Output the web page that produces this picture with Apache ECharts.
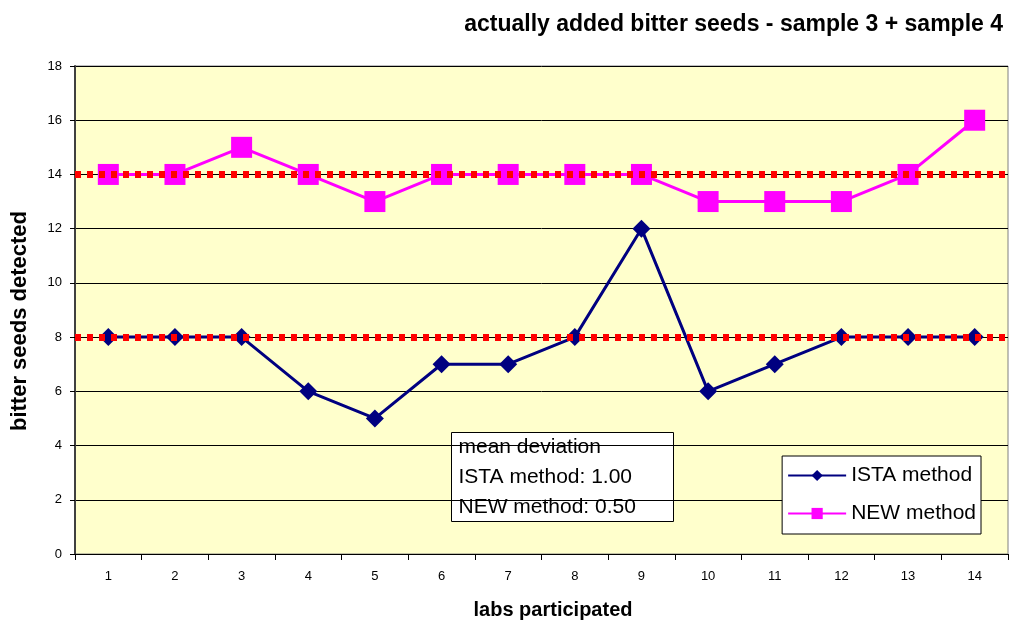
<!DOCTYPE html>
<html><head><meta charset="utf-8">
<script src="https://cdn.jsdelivr.net/npm/echarts@6/dist/echarts.min.js"></script>
<style>html,body{margin:0;padding:0;background:#fff}#c{width:1011px;height:623px}</style>
</head><body><div id="c"></div>
<script>
const labs = ['1','2','3','4','5','6','7','8','9','10','11','12','13','14'];
const ista = [8,8,8,6,5,7,7,8,12,6,7,8,8,8];
const newm = [14,14,15,14,13,14,14,14,14,13,13,13,14,16];
const refLines = [14, 8];
const boxLines = ['mean deviation','ISTA method: 1.00','NEW method: 0.50'];
const titleText = 'actually added bitter seeds - sample 3 + sample 4';
const xName = 'labs participated';
const yName = 'bitter seeds detected';

const chart = echarts.init(document.getElementById('c'), null, {renderer:'canvas'});
const font = 'Liberation Sans, Arial, sans-serif';
chart.setOption({
  animation:false,
  backgroundColor:'#fff',
  title:{text:titleText, right:3, top:8,
    textStyle:{fontFamily:font, fontSize:23, fontWeight:'bold', color:'#000'}},
  grid:{left:75, top:66, right:3, bottom:69, show:true, backgroundColor:'#ffffcc', borderColor:'#808080', borderWidth:1},
  legend:{right:30, top:456, orient:'vertical', backgroundColor:'#fff', borderColor:'#000', borderWidth:1,
    padding:[9,5,10,5], itemGap:17, itemWidth:58, itemHeight:14,
    textStyle:{fontFamily:font, fontSize:21, color:'#000'},
    data:['ISTA method','NEW method']},
  xAxis:{type:'category', data:labs, boundaryGap:true,
    axisLine:{lineStyle:{color:'#000', width:1}}, axisTick:{show:true, length:6, lineStyle:{color:'#000'}},
    axisLabel:{fontFamily:font, fontSize:13, color:'#000', margin:16}, splitLine:{show:false}},
  yAxis:{type:'value', min:0, max:18, interval:2,
    axisLine:{show:true, lineStyle:{color:'#404040', width:2}}, axisTick:{show:true, length:5, lineStyle:{color:'#000'}},
    axisLabel:{fontFamily:font, fontSize:13, color:'#000', margin:13},
    splitLine:{show:true, lineStyle:{color:'#000', width:1}}},
  series:[
    {name:'ISTA method', type:'line', data:ista, symbol:'diamond', symbolSize:18, z:4,
      lineStyle:{color:'#000080', width:3}, itemStyle:{color:'#000080'}},
    {name:'NEW method', type:'line', data:newm, symbol:'rect', symbolSize:21, z:5,
      lineStyle:{color:'#ff00ff', width:3}, itemStyle:{color:'#ff00ff'},
      markLine:{silent:true, symbol:'none', label:{show:false}, z:20,
        lineStyle:{color:'#ff0000', width:7, type:[6,6]},
        data: refLines.map(v=>({yAxis:v}))}}
  ],
  graphic:[
    {type:'text', x:553, y:610, z:10, style:{text:xName, font:'bold 20px '+font, fill:'#000', align:'center', verticalAlign:'middle'}},
    {type:'text', x:20, y:321, rotation:Math.PI/2, z:10, style:{text:yName, font:'bold 22px '+font, fill:'#000', align:'center', verticalAlign:'middle'}},
    {type:'group', left:451, top:432, z:10, children:[
      {type:'rect', shape:{x:0,y:0,width:222,height:89}, style:{fill:'#fff', stroke:'#000', lineWidth:1}},
      ...boxLines.map((t,i)=>({type:'text', x:7, y:15+i*30, style:{text:t, font:'21px '+font, fill:'#000', verticalAlign:'middle'}}))
    ]}
  ]
});
</script></body></html>
